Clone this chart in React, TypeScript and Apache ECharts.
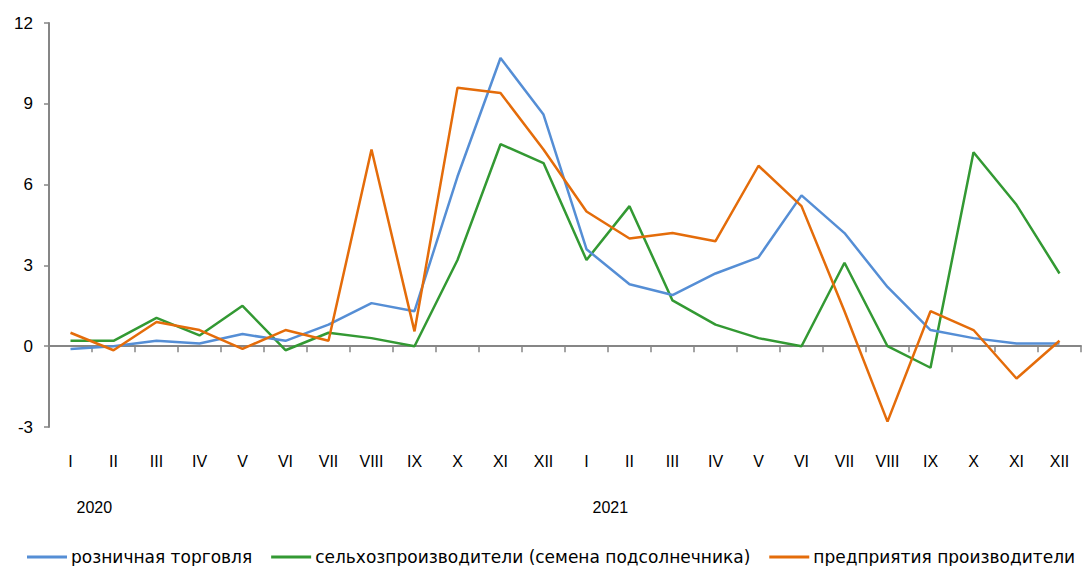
import React, { useEffect, useRef } from "react";
import * as echarts from "echarts";

const months = ["I", "II", "III", "IV", "V", "VI", "VII", "VIII", "IX", "X", "XI", "XII",
  "I", "II", "III", "IV", "V", "VI", "VII", "VIII", "IX", "X", "XI", "XII"];
const yearLabels = ["2020", "", "", "", "", "", "", "", "", "", "", "",
  "2021", "", "", "", "", "", "", "", "", "", "", ""];

const retail = [-0.1, 0, 0.2, 0.1, 0.45, 0.2, 0.8, 1.6, 1.3, 6.3, 10.7, 8.6,
  3.6, 2.3, 1.9, 2.7, 3.3, 5.6, 4.2, 2.2, 0.6, 0.3, 0.1, 0.1];
const farmers = [0.2, 0.2, 1.05, 0.4, 1.5, -0.15, 0.5, 0.3, 0, 3.2, 7.5, 6.8,
  3.2, 5.2, 1.7, 0.8, 0.3, 0, 3.1, 0, -0.8, 7.2, 5.25, 2.7];
const producers = [0.5, -0.15, 0.9, 0.6, -0.1, 0.6, 0.2, 7.3, 0.55, 9.6, 9.4, 7.3,
  5.0, 4.0, 4.2, 3.9, 6.7, 5.2, 1.3, -2.8, 1.3, 0.6, -1.2, 0.2];

const seriesNames = [
  "розничная торговля",
  "сельхозпроизводители (семена подсолнечника)",
  "предприятия производители",
];
const colors = ["#558ED5", "#339933", "#E46C0A"];

export default function App() {
  const ref = useRef<HTMLDivElement>(null);
  useEffect(() => {
    if (!ref.current) return;
    const chart = echarts.init(ref.current, null, { renderer: "svg" });
    const font = "Liberation Sans, Arial, sans-serif";
    const data = [retail, farmers, producers];
    chart.setOption({
      animation: false,
      textStyle: { fontFamily: font },
      grid: { left: 49, right: 2, top: 23, bottom: 139, containLabel: false },
      legend: {
        left: 22,
        top: 542,
        width: 1400,
        icon: "rect",
        itemWidth: 40,
        itemHeight: 3,
        itemGap: 19,
        textStyle: { fontSize: 17, lineHeight: 20, color: "#000", fontFamily: "DejaVu Sans, sans-serif", padding: [0, 0, 0, -1] },
        data: seriesNames,
      },
      xAxis: [
        {
          type: "category",
          data: months,
          boundaryGap: true,
          axisLine: { onZero: true, lineStyle: { color: "#868686", width: 2 } },
          axisTick: { show: true, length: 6, lineStyle: { color: "#868686", width: 1.5 } },
          axisLabel: { margin: 26, fontSize: 16, color: "#000", interval: 0 },
          splitLine: { show: false },
        },
        {
          type: "category",
          data: yearLabels,
          position: "bottom",
          boundaryGap: true,
          axisLine: { show: false, onZero: false },
          axisTick: { show: false },
          axisLabel: { margin: 72, fontSize: 16, color: "#000", interval: 0, align: "left", padding: [0, 0, 0, 6] },
          splitLine: { show: false },
        },
      ],
      yAxis: {
        type: "value",
        min: -3,
        max: 12,
        interval: 3,
        axisLine: { show: true, lineStyle: { color: "#868686", width: 2 } },
        axisTick: { show: true, length: 5, lineStyle: { color: "#868686", width: 1.5 } },
        axisLabel: { fontSize: 17, color: "#000", margin: 16 },
        splitLine: { show: false },
      },
      series: seriesNames.map((name, i) => ({
        name,
        type: "line",
        data: data[i],
        xAxisIndex: 0,
        symbol: "none",
        lineStyle: { color: colors[i], width: 2.5 },
        itemStyle: { color: colors[i] },
        z: i === 0 ? 3 : i === 1 ? 2 : 4,
      })),
    });
    return () => chart.dispose();
  }, []);
  return (
    <div
      ref={ref}
      style={{ position: "absolute", left: 0, top: 0, width: 1083, height: 566 }}
    />
  );
}
